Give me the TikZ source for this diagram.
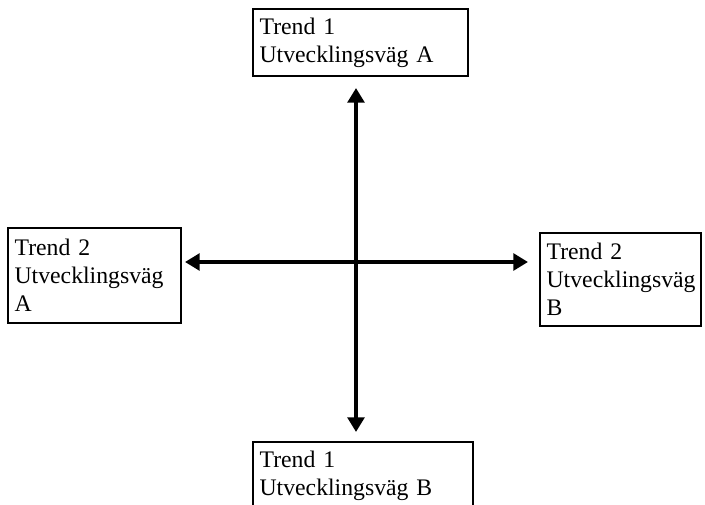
\documentclass[tikz,border=0pt]{standalone}
\usepackage{fontspec}
\setmainfont{Liberation Serif}
\usetikzlibrary{arrows.meta}
\tikzset{
  trendbox/.style={draw, line width=1.4pt, rectangle, anchor=north west, align=left,
    inner xsep=5pt, inner ysep=0pt, font=\fontsize{17.8pt}{21pt}\selectfont},
  axis/.style={line width=3pt, {Triangle[length=11pt,width=12.5pt]}-{Triangle[length=11pt,width=12.5pt]}}
}
\begin{document}
\begin{tikzpicture}[x=0.75pt,y=-0.75pt]
\useasboundingbox (0,0) rectangle (705,505);
\node[trendbox, minimum width=161.25pt, minimum height=50.25pt, text width=151.25pt] (t1a) at (252,8) {Trend 1\\Utvecklingsväg A};
\node[trendbox, minimum width=165pt, minimum height=50.25pt, text width=155pt] (t1b) at (252,441) {Trend 1\\Utvecklingsväg B};
\node[trendbox, minimum width=129.75pt, minimum height=71.25pt, text width=119.75pt] (t2a) at (7,227) {Trend 2\\Utvecklingsväg\\A};
\node[trendbox, minimum width=120.75pt, minimum height=69.75pt, text width=110.75pt] (t2b) at (539,232) {Trend 2\\Utvecklingsväg\\B};
% arrow ends
\coordinate (up) at (356,88);
\coordinate (down) at (356,432);
\coordinate (left) at (185,262);
\coordinate (right) at (528,262);
\draw[axis] (up) -- (down);
\draw[axis] (left) -- (right);
\end{tikzpicture}
\end{document}
